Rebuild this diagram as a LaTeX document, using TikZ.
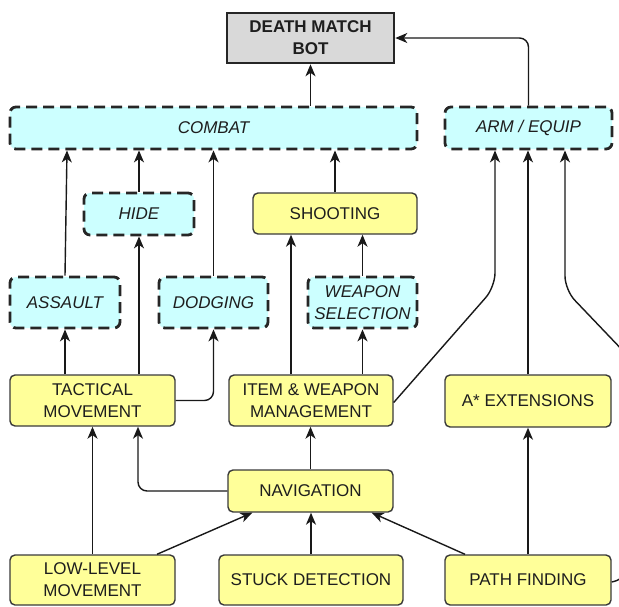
\documentclass[tikz,border=0pt]{standalone}
\usepackage{fontspec}
\setmainfont{Liberation Sans}
\usetikzlibrary{arrows.meta,calc}
\definecolor{ybox}{HTML}{FFFF99}
\definecolor{cbox}{HTML}{CCFFFF}
\definecolor{gbox}{HTML}{D9D9D9}
\definecolor{edge}{HTML}{3A3A3A}
\definecolor{txt}{HTML}{1E1E1E}
\tikzset{
  base/.style={align=center, inner sep=0pt, text=txt,
    font=\fontsize{17}{22}\selectfont},
  ybx/.style={base, draw=edge, fill=ybox, line width=1.4pt, rounded corners=5pt},
  cbx/.style={base, draw=black!85, fill=cbox, line width=2.8pt, rounded corners=6pt,
    dash pattern=on 11pt off 6pt, font=\fontsize{17}{22}\selectfont\itshape},
  gbx/.style={base, draw=black!85, fill=gbox, line width=2.6pt,
    font=\fontsize{17}{22}\selectfont\bfseries},
  conn/.style={draw=black!90, line width=1.4pt, rounded corners=9pt,
    -{Stealth[length=12pt,width=10pt,inset=3.5pt]}},
}
\begin{document}
\begin{tikzpicture}[x=1pt,y=-1pt]
\useasboundingbox (0,0) rectangle (619,606);
\clip (0,0) rectangle (619,606);
% nodes
\node[gbx, minimum width=167, minimum height=50] (dmb) at (310.5,38) {DEATH MATCH\\BOT};
\node[cbx, minimum width=407, minimum height=42] (combat) at (213.5,128) {COMBAT};
\node[cbx, minimum width=167, minimum height=42] (arm) at (528.5,128) {ARM / EQUIP};
\node[cbx, minimum width=110, minimum height=42] (hide) at (139,214) {HIDE};
\node[ybx, minimum width=164, minimum height=41] (shoot) at (335,213.5) {SHOOTING};
\node[cbx, minimum width=110, minimum height=51] (assault) at (65,302.5) {ASSAULT};
\node[cbx, minimum width=109, minimum height=51] (dodge) at (213.5,302.5) {DODGING};
\node[cbx, minimum width=109, minimum height=51] (wsel) at (362.5,302.5) {WEAPON\\SELECTION};
\node[ybx, minimum width=165, minimum height=51] (tact) at (92.5,400.5) {TACTICAL\\MOVEMENT};
\node[ybx, minimum width=164, minimum height=51] (item) at (311,400.5) {ITEM \& WEAPON\\MANAGEMENT};
\node[ybx, minimum width=166, minimum height=52] (astar) at (528,401) {A* EXTENSIONS};
\node[ybx, minimum width=165, minimum height=42] (nav) at (310.5,491) {NAVIGATION};
\node[ybx, minimum width=165, minimum height=50] (low) at (92.5,580) {LOW-LEVEL\\MOVEMENT};
\node[ybx, minimum width=184, minimum height=50] (stuck) at (311,580) {STUCK DETECTION};
\node[ybx, minimum width=166, minimum height=50] (path) at (528,580) {PATH FINDING};
% connectors
\draw[conn] (combat.north -| dmb.south) -- (dmb.south);
\draw[conn] (arm.north) -- (arm.north |- dmb.east) -- (dmb.east);
\draw[conn] (assault.north) -- ([xshift=2]assault.north |- combat.south);
\draw[conn] (hide.north) -- (hide.north |- combat.south);
\draw[conn] (dodge.north) -- (dodge.north |- combat.south);
\draw[conn] (shoot.north) -- (shoot.north |- combat.south);
\draw[conn] (tact.north -| assault.south) -- (assault.south);
\draw[conn] (tact.north -| hide.south) -- (hide.south);
\draw[conn] (tact.east) -- (tact.east -| dodge.south) -- (dodge.south);
\draw[conn] ([xshift=-20]item.north) -- ([xshift=-20]item.north |- shoot.south);
\draw[conn] (item.north -| wsel.south) -- (wsel.south);
\draw[conn] (wsel.north) -- (wsel.north |- shoot.south);
\draw[conn, rounded corners=14pt] ([yshift=-2]item.east) -- ([xshift=-33.5]arm.south |- 0,287) -- ([xshift=-33.5]arm.south);
\draw[conn] (astar.north) -- (astar.north |- arm.south);
\draw[conn, rounded corners=14pt] ([yshift=-2]path.east) -- (628,578) -- (628,356) -- ([xshift=36.5]arm.south |- 0,290) -- ([xshift=36.5]arm.south);
\draw[conn] (low.north) -- (low.north |- tact.south);
\draw[conn] (nav.west) -- ([xshift=45.5]tact.south |- nav.west) -- ([xshift=45.5]tact.south);
\draw[conn] (nav.north) -- (nav.north |- item.south);
\draw[conn] ([xshift=64.5]low.north) -- ([xshift=25]nav.south west);
\draw[conn] (stuck.north) -- (stuck.north |- nav.south);
\draw[conn] ([xshift=-63]path.north) -- ([xshift=-22]nav.south east);
\draw[conn] (path.north) -- (path.north |- astar.south);
\end{tikzpicture}
\end{document}
